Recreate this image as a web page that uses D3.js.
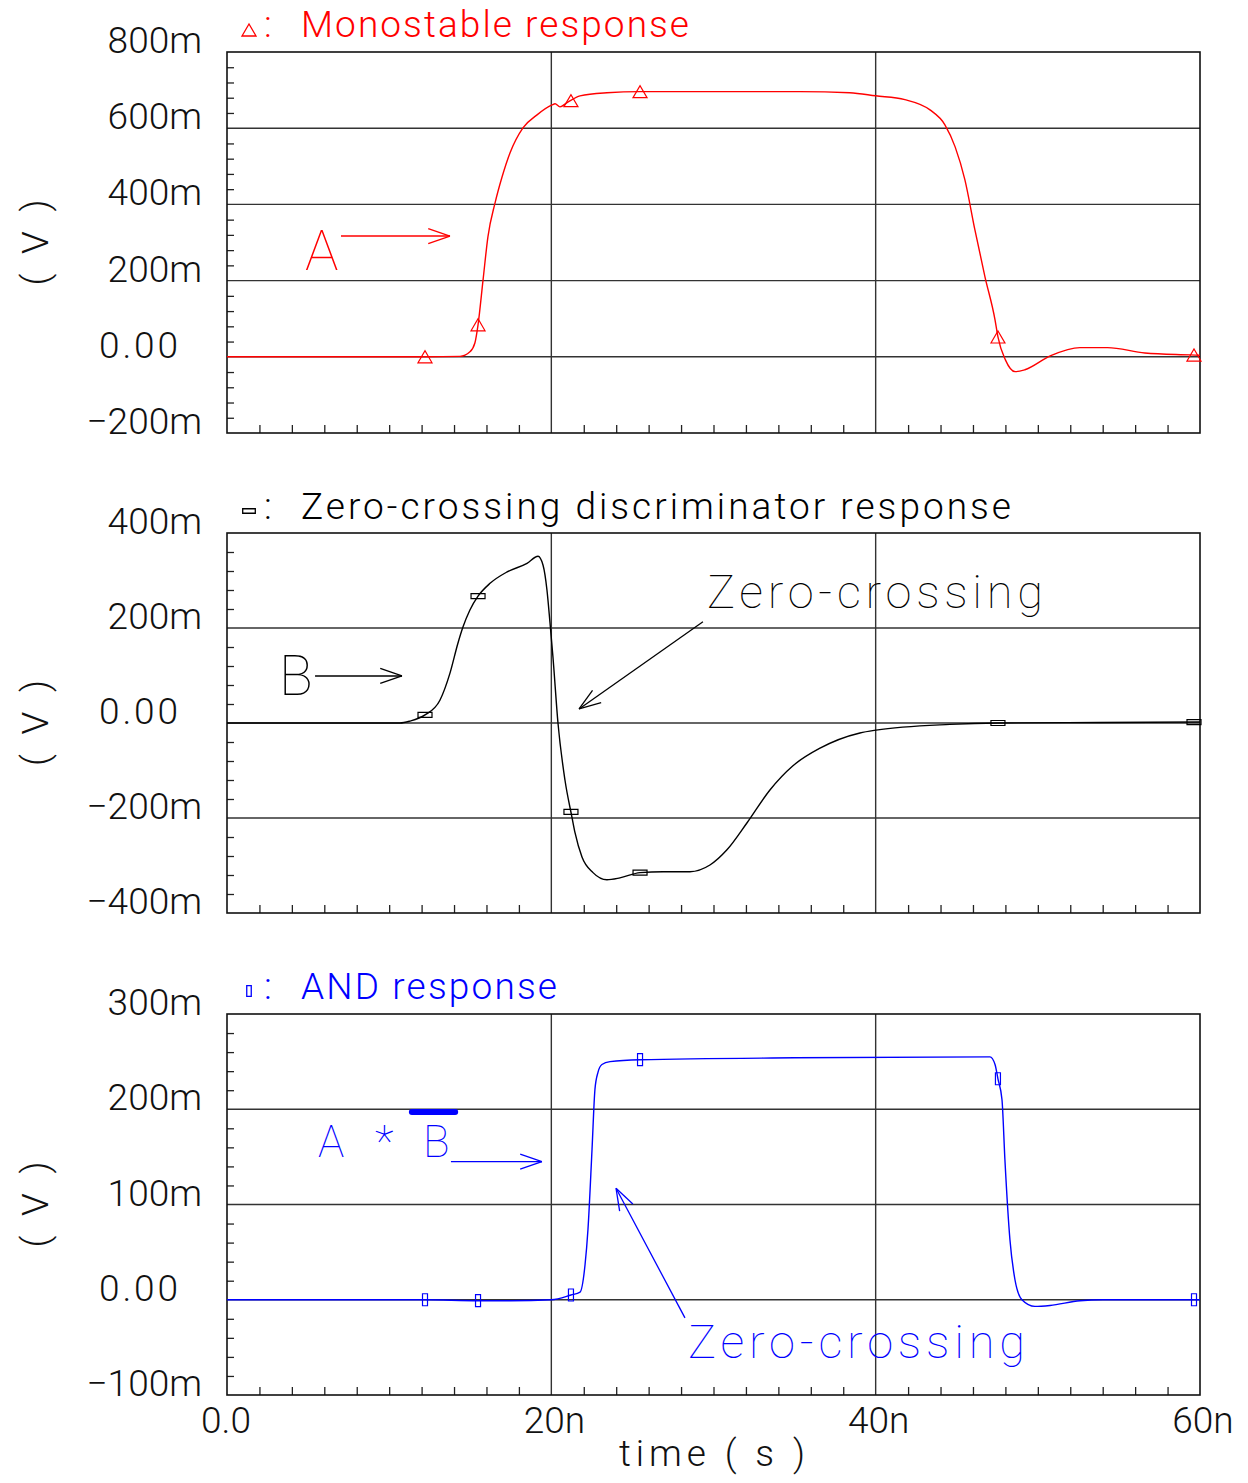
<!DOCTYPE html>
<html><head><meta charset="utf-8">
<script src="https://cdn.jsdelivr.net/npm/d3@7"></script>
<style>
body{margin:0;background:#fff;}
svg{display:block;}
text{font-family:Roboto,"DejaVu Sans",sans-serif;font-weight:300;}
text.big{font-weight:100;}
</style></head><body>
<svg id="chart" width="1248" height="1483"></svg>
<script>
// ---------------- DATA ----------------
const xDomain = [0, 60];            // ns
const xTickValues = [0, 20, 40, 60];
const xTickLabels = ["0.0", "20n", "40n", "60n"];
const xMinorStep = 2;
const xLabel = "time ( s )";
const yLabel = "( V )";

// Panel A : Monostable response
const titleA = "Monostable response";
const yDomainA = [-0.2, 0.8];
const yTicksA = [-0.2, 0, 0.2, 0.4, 0.6, 0.8];
const yLabelsA = ["−200m", "0.00", "200m", "400m", "600m", "800m"];
const yMinorStepA = 0.04;
const timeA = [0, 12.2, 14.37, 14.98, 15.29, 15.48, 15.79, 16.09, 16.53, 16.96, 17.45, 18.25, 19.12, 20.04, 20.23, 20.53, 20.97, 21.77, 23.43, 25.47, 35.33, 38.4, 40.0, 41.8, 43.35, 44.27, 44.9, 45.5, 46.12, 46.74, 47.36, 47.54, 48.0, 48.6, 49.2, 50.8, 52.6, 54.3, 56.6, 59.4, 60];
const valA  = [0, 0, 0.001, 0.013, 0.037, 0.084, 0.202, 0.315, 0.404, 0.472, 0.535, 0.601, 0.635, 0.661, 0.664, 0.656, 0.667, 0.685, 0.693, 0.696, 0.696, 0.693, 0.685, 0.675, 0.648, 0.609, 0.551, 0.465, 0.333, 0.21, 0.097, 0.052, -0.008, -0.039, -0.034, 0.003, 0.024, 0.024, 0.010, 0.005, 0.004];

// Panel B : Zero-crossing discriminator response
const titleB = "Zero-crossing discriminator response";
const yDomainB = [-0.4, 0.4];
const yTicksB = [-0.4, -0.2, 0, 0.2, 0.4];
const yLabelsB = ["−400m", "−200m", "0.00", "200m", "400m"];
const yMinorStepB = 0.04;
const timeB = [0, 10.67, 11.28, 12.21, 13.13, 13.75, 14.24, 14.55, 14.98, 15.48, 16.22, 17.27, 18.50, 19.18, 19.49, 19.73, 19.92, 20.10, 20.41, 20.84, 21.27, 21.46, 21.89, 22.57, 23.43, 24.23, 25.47, 26.89, 28.55, 29.78, 30.83, 32.07, 33.48, 34.90, 36.57, 39.03, 40.02, 44.58, 47.54, 53.83, 60];
const valB  = [0, 0, 0.004, 0.017, 0.048, 0.105, 0.168, 0.202, 0.238, 0.267, 0.294, 0.318, 0.336, 0.351, 0.332, 0.280, 0.210, 0.139, 0, -0.12, -0.198, -0.231, -0.282, -0.315, -0.330, -0.326, -0.315, -0.313, -0.313, -0.299, -0.267, -0.210, -0.141, -0.090, -0.053, -0.021, -0.015, -0.003, 0, 0.001, 0.002];

// Panel C : AND response
const titleC = "AND response";
const yDomainC = [-0.1, 0.3];
const yTicksC = [-0.1, 0, 0.1, 0.2, 0.3];
const yLabelsC = ["−100m", "0.00", "100m", "200m", "300m"];
const yMinorStepC = 0.02;
const timeC = [0, 12.21, 15.48, 17.5, 20.0, 21.21, 21.77, 22.08, 22.26, 22.51, 22.69, 22.88, 23.12, 23.62, 25.47, 35, 47.05, 47.36, 47.54, 47.79, 47.97, 48.28, 48.59, 49.02, 49.82, 50.75, 52.6, 54, 60];
const valC  = [0, 0, -0.001, -0.001, 0, 0.005, 0.008, 0.037, 0.074, 0.158, 0.221, 0.239, 0.247, 0.250, 0.252, 0.254, 0.255, 0.247, 0.232, 0.21, 0.147, 0.063, 0.021, 0, -0.007, -0.006, -0.001, 0, 0];

// marker times (shared by the three traces)
const markerTimes = [12.21, 15.48, 21.21, 25.47, 47.54, 59.63];

// annotations (data coordinates: time ns, value V)
const annotA = {label: "A", t: 4.81, v: 0.228, arrow: [[7.03, 0.317], [13.75, 0.317]]};
const annotB = {label: "B", t: 3.21, v: 0.059, arrow: [[5.43, 0.099], [10.79, 0.099]],
                zc: {label: "Zero-crossing", t: 29.6, v: 0.242, arrow: [[29.35, 0.213], [21.71, 0.0295]]}};
const annotC = {a: {label: "A", t: 5.61, v: 0.150}, star: {label: "*", t: 9.13, v: 0.150}, b: {label: "B", t: 12.09, v: 0.150},
                bar: [[11.4, 0.197], [14.07, 0.197]], arrow: [[13.81, 0.145], [19.42, 0.145]],
                zc: {label: "Zero-crossing", t: 28.43, v: -0.061, arrow: [[28.24, -0.019], [23.99, 0.117]]}};

// ---------------- DRAW ----------------
const svg = d3.select("#chart");
const x = d3.scaleLinear().domain(xDomain).range([227, 1200]);

const panels = [
  {top: 52, bottom: 433, color: "#ff0000", title: titleA, dom: yDomainA, ticks: yTicksA, labels: yLabelsA, minor: yMinorStepA, t: timeA, v: valA, marker: "tri", titleY: 37},
  {top: 533, bottom: 913, color: "#000000", title: titleB, dom: yDomainB, ticks: yTicksB, labels: yLabelsB, minor: yMinorStepB, t: timeB, v: valB, marker: "hrect", titleY: 519},
  {top: 1014, bottom: 1395, color: "#0000ff", title: titleC, dom: yDomainC, ticks: yTicksC, labels: yLabelsC, minor: yMinorStepC, t: timeC, v: valC, marker: "vrect", titleY: 999}
];
const titleLen = [388, 710, 256];

function interp(ts, vs, t) {
  for (let i = 1; i < ts.length; i++) {
    if (t <= ts[i]) { const f = (t - ts[i-1]) / (ts[i] - ts[i-1]); return vs[i-1] + f * (vs[i] - vs[i-1]); }
  }
  return vs[vs.length - 1];
}
function markerPath(kind, s) {
  s = s || 1;
  if (kind === "tri") return `M${-7*s},${6*s}L0,${-6*s}L${7*s},${6*s}Z`;
  if (kind === "hrect") return `M${-7*s},${-2.5*s}h${14*s}v${5*s}h${-14*s}Z`;
  return `M${-2.5*s},${-6*s}h${5*s}v${12*s}h${-5*s}Z`;
}
function arrow(g, p1, p2, color) {
  g.append("line").attr("x1", p1[0]).attr("y1", p1[1]).attr("x2", p2[0]).attr("y2", p2[1])
    .attr("stroke", color).attr("stroke-width", 1.3);
  const ang = Math.atan2(p1[1] - p2[1], p1[0] - p2[0]);
  const L = 23, a = 19 * Math.PI / 180;
  [-1, 1].forEach(s => {
    g.append("line").attr("x1", p2[0]).attr("y1", p2[1])
      .attr("x2", p2[0] + L * Math.cos(ang + s * a)).attr("y2", p2[1] + L * Math.sin(ang + s * a))
      .attr("stroke", color).attr("stroke-width", 1.3);
  });
}

const ys = [];
panels.forEach((p, idx) => {
  const y = d3.scaleLinear().domain(p.dom).range([p.bottom, p.top]);
  ys.push(y);
  const g = svg.append("g");

  // gridlines
  p.ticks.slice(1, -1).forEach(v => {
    g.append("line").attr("x1", x(xDomain[0])).attr("x2", x(xDomain[1])).attr("y1", y(v)).attr("y2", y(v))
      .attr("stroke", "#333").attr("stroke-width", 1.4);
  });
  xTickValues.slice(1, -1).forEach(t => {
    g.append("line").attr("x1", x(t)).attr("x2", x(t)).attr("y1", p.top).attr("y2", p.bottom)
      .attr("stroke", "#333").attr("stroke-width", 1.4);
  });

  // minor ticks (axes)
  const nMin = Math.round((p.dom[1] - p.dom[0]) / p.minor);
  const yMinor = d3.range(1, nMin).map(i => p.dom[0] + i * p.minor)
    .filter(v => !p.ticks.some(tv => Math.abs(tv - v) < 1e-9));
  const ax = g.append("g").attr("transform", `translate(${x(xDomain[0])},0)`)
    .call(d3.axisLeft(y).tickValues(yMinor).tickSize(-7).tickFormat(""));
  ax.select(".domain").remove();
  ax.selectAll("line").attr("stroke", "#222").attr("stroke-width", 1.3);
  const xMinor = d3.range(xDomain[0] + xMinorStep, xDomain[1], xMinorStep).filter(t => !xTickValues.includes(t));
  const bx = g.append("g").attr("transform", `translate(0,${p.bottom})`)
    .call(d3.axisBottom(x).tickValues(xMinor).tickSize(-8).tickFormat(""));
  bx.select(".domain").remove();
  bx.selectAll("line").attr("stroke", "#222").attr("stroke-width", 1.3);

  // frame
  g.append("rect").attr("x", x(xDomain[0])).attr("y", p.top).attr("width", x(xDomain[1]) - x(xDomain[0]))
    .attr("height", p.bottom - p.top).attr("fill", "none").attr("stroke", "#111").attr("stroke-width", 1.6);

  // curve
  const pts = p.t.map((t, i) => [t, p.v[i]]);
  g.append("path").datum(pts)
    .attr("d", d3.line().x(d => x(d[0])).y(d => y(d[1])).curve(d3.curveMonotoneX))
    .attr("fill", "none").attr("stroke", p.color).attr("stroke-width", 1.4);

  // markers
  g.selectAll(".mk").data(markerTimes).enter().append("path")
    .attr("transform", t => `translate(${x(t)},${y(interp(p.t, p.v, t))})`)
    .attr("d", markerPath(p.marker)).attr("fill", "none").attr("stroke", p.color).attr("stroke-width", 1.2);

  // y tick labels
  p.ticks.forEach((v, i) => {
    const lab = p.labels[i];
    const endM = lab.endsWith("m");
    g.append("text").attr("x", endM ? 202 : 99).attr("y", y(v) + 1)
      .attr("text-anchor", endM ? "end" : "start").attr("font-size", 37).attr("fill", "#111")
      .attr("textLength", endM ? null : 79).attr("lengthAdjust", "spacing")
      .text(lab);
  });

  // y axis label
  g.append("text").attr("transform", `translate(48,${(p.top + p.bottom) / 2}) rotate(-90)`)
    .attr("text-anchor", "middle").attr("font-size", 37).attr("fill", "#111").attr("xml:space", "preserve")
    .attr("textLength", 86).attr("lengthAdjust", "spacing")
    .text(yLabel);

  // title
  g.append("path").attr("transform", `translate(249,${p.titleY - (idx === 0 ? 7 : 8)})`)
    .attr("d", markerPath(p.marker, idx === 0 ? 1 : 0.9)).attr("fill", "none").attr("stroke", p.color).attr("stroke-width", 1.3);
  g.append("text").attr("x", 264).attr("y", p.titleY).attr("font-size", 37).attr("fill", p.color).text(":");
  g.append("text").attr("x", 301).attr("y", p.titleY).attr("font-size", 37).attr("fill", p.color)
    .attr("textLength", titleLen[idx]).attr("lengthAdjust", "spacing").text(p.title);
});

// x tick labels
xTickValues.forEach((t, i) => {
  svg.append("text").attr("x", x(t) + (i === 0 ? -1 : 3)).attr("y", 1433).attr("text-anchor", "middle")
    .attr("font-size", 37).attr("fill", "#111").text(xTickLabels[i]);
});
svg.append("text").attr("x", 712).attr("y", 1466).attr("text-anchor", "middle")
  .attr("font-size", 37).attr("fill", "#111").attr("xml:space", "preserve")
  .attr("textLength", 186).attr("lengthAdjust", "spacing").text(xLabel);

// annotations
const [yA, yB, yC] = ys;
const gA = svg.append("g");
gA.append("text").attr("class", "big").attr("x", x(annotA.t)).attr("y", yA(annotA.v)).attr("font-size", 56).attr("fill", "#ff0000").text(annotA.label);
arrow(gA, [x(annotA.arrow[0][0]), yA(annotA.arrow[0][1])], [x(annotA.arrow[1][0]), yA(annotA.arrow[1][1])], "#ff0000");

const gB = svg.append("g");
gB.append("text").attr("class", "big").attr("x", x(annotB.t)).attr("y", yB(annotB.v)).attr("font-size", 56).attr("fill", "#000").text(annotB.label);
arrow(gB, [x(annotB.arrow[0][0]), yB(annotB.arrow[0][1])], [x(annotB.arrow[1][0]), yB(annotB.arrow[1][1])], "#000");
gB.append("text").attr("class", "big").attr("x", x(annotB.zc.t)).attr("y", yB(annotB.zc.v)).attr("font-size", 47).attr("fill", "#000")
  .attr("textLength", 336).attr("lengthAdjust", "spacing").text(annotB.zc.label);
arrow(gB, [x(annotB.zc.arrow[0][0]), yB(annotB.zc.arrow[0][1])], [x(annotB.zc.arrow[1][0]), yB(annotB.zc.arrow[1][1])], "#000");

const gC = svg.append("g");
[annotC.a, annotC.star, annotC.b].forEach(d => {
  gC.append("text").attr("class", "big").attr("x", x(d.t)).attr("y", yC(d.v)).attr("font-size", 44).attr("fill", "#0000ff").text(d.label);
});
gC.append("line").attr("x1", x(annotC.bar[0][0])).attr("x2", x(annotC.bar[1][0]))
  .attr("y1", yC(annotC.bar[0][1])).attr("y2", yC(annotC.bar[1][1]))
  .attr("stroke", "#0000ff").attr("stroke-width", 6).attr("stroke-linecap", "round");
arrow(gC, [x(annotC.arrow[0][0]), yC(annotC.arrow[0][1])], [x(annotC.arrow[1][0]), yC(annotC.arrow[1][1])], "#0000ff");
gC.append("text").attr("class", "big").attr("x", x(annotC.zc.t)).attr("y", yC(annotC.zc.v)).attr("font-size", 47).attr("fill", "#0000ff")
  .attr("textLength", 337).attr("lengthAdjust", "spacing").text(annotC.zc.label);
arrow(gC, [x(annotC.zc.arrow[0][0]), yC(annotC.zc.arrow[0][1])], [x(annotC.zc.arrow[1][0]), yC(annotC.zc.arrow[1][1])], "#0000ff");
</script>
</body></html>
